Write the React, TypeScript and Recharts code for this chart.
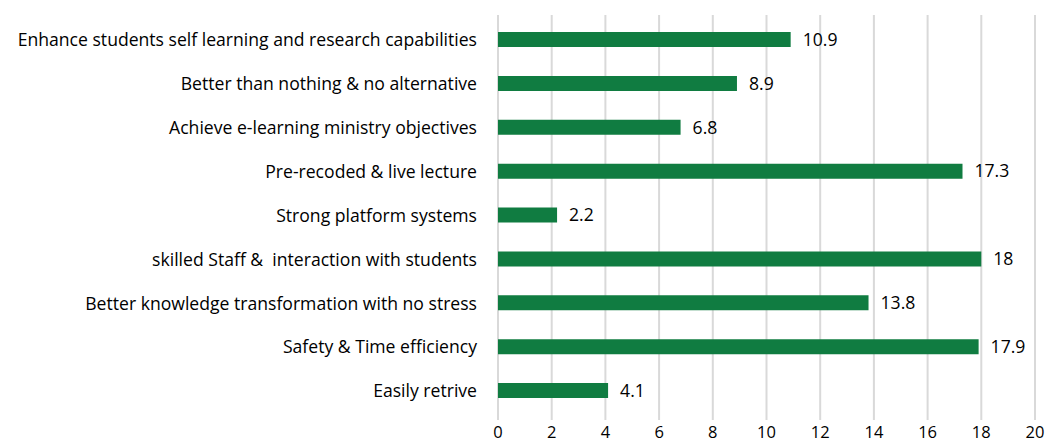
import { BarChart, Bar, XAxis, YAxis, CartesianGrid, LabelList } from "recharts";

const categories = [
  "Enhance students self learning and research capabilities",
  "Better than nothing & no alternative",
  "Achieve e-learning ministry objectives",
  "Pre-recoded & live lecture",
  "Strong platform systems",
  "skilled Staff &  interaction with students",
  "Better knowledge transformation with no stress",
  "Safety & Time efficiency",
  "Easily retrive",
];

const values = [10.9, 8.9, 6.8, 17.3, 2.2, 18, 13.8, 17.9, 4.1];

const xTicks = [0, 2, 4, 6, 8, 10, 12, 14, 16, 18, 20];

const data = categories.map((name, i) => ({ name, value: values[i] }));

const FONT = "'Open Sans', sans-serif";
const SIZE = 17.6;

// svg text collapses double spaces, keep the one in the source label
const keepSpaces = (s: string) => s.replace(/  /g, " \u00A0");

export default function App() {
  return (
    <div style={{ position: "absolute", left: 0, top: 0, width: 1047, height: 442, background: "#fff" }}>
      <BarChart
        width={1047}
        height={442}
        data={data}
        layout="vertical"
        margin={{ top: 15, right: 12, bottom: 0, left: 0 }}
        barSize={15}
      >
        <CartesianGrid horizontal={false} stroke="#D9D9D9" strokeWidth={2} />
        <XAxis
          type="number"
          domain={[0, 20]}
          ticks={xTicks}
          axisLine={false}
          tickLine={false}
          tickSize={0}
          tickMargin={6}
          height={22}
          interval={0}
          tick={{ fill: "#000", fontSize: 16.5, fontFamily: FONT }}
        />
        <YAxis
          type="category"
          dataKey="name"
          width={498}
          axisLine={false}
          tickLine={false}
          tickSize={0}
          tickMargin={21}
          interval={0}
          padding={{ top: 3, bottom: 7 }}
          tickFormatter={keepSpaces}
          tick={{ fill: "#000", fontSize: SIZE, fontFamily: FONT }}
        />
        <Bar dataKey="value" fill="#107C41" isAnimationActive={false}>
          <LabelList
            dataKey="value"
            position="right"
            offset={12}
            style={{ fill: "#000", fontSize: SIZE, fontFamily: FONT }}
          />
        </Bar>
      </BarChart>
    </div>
  );
}
